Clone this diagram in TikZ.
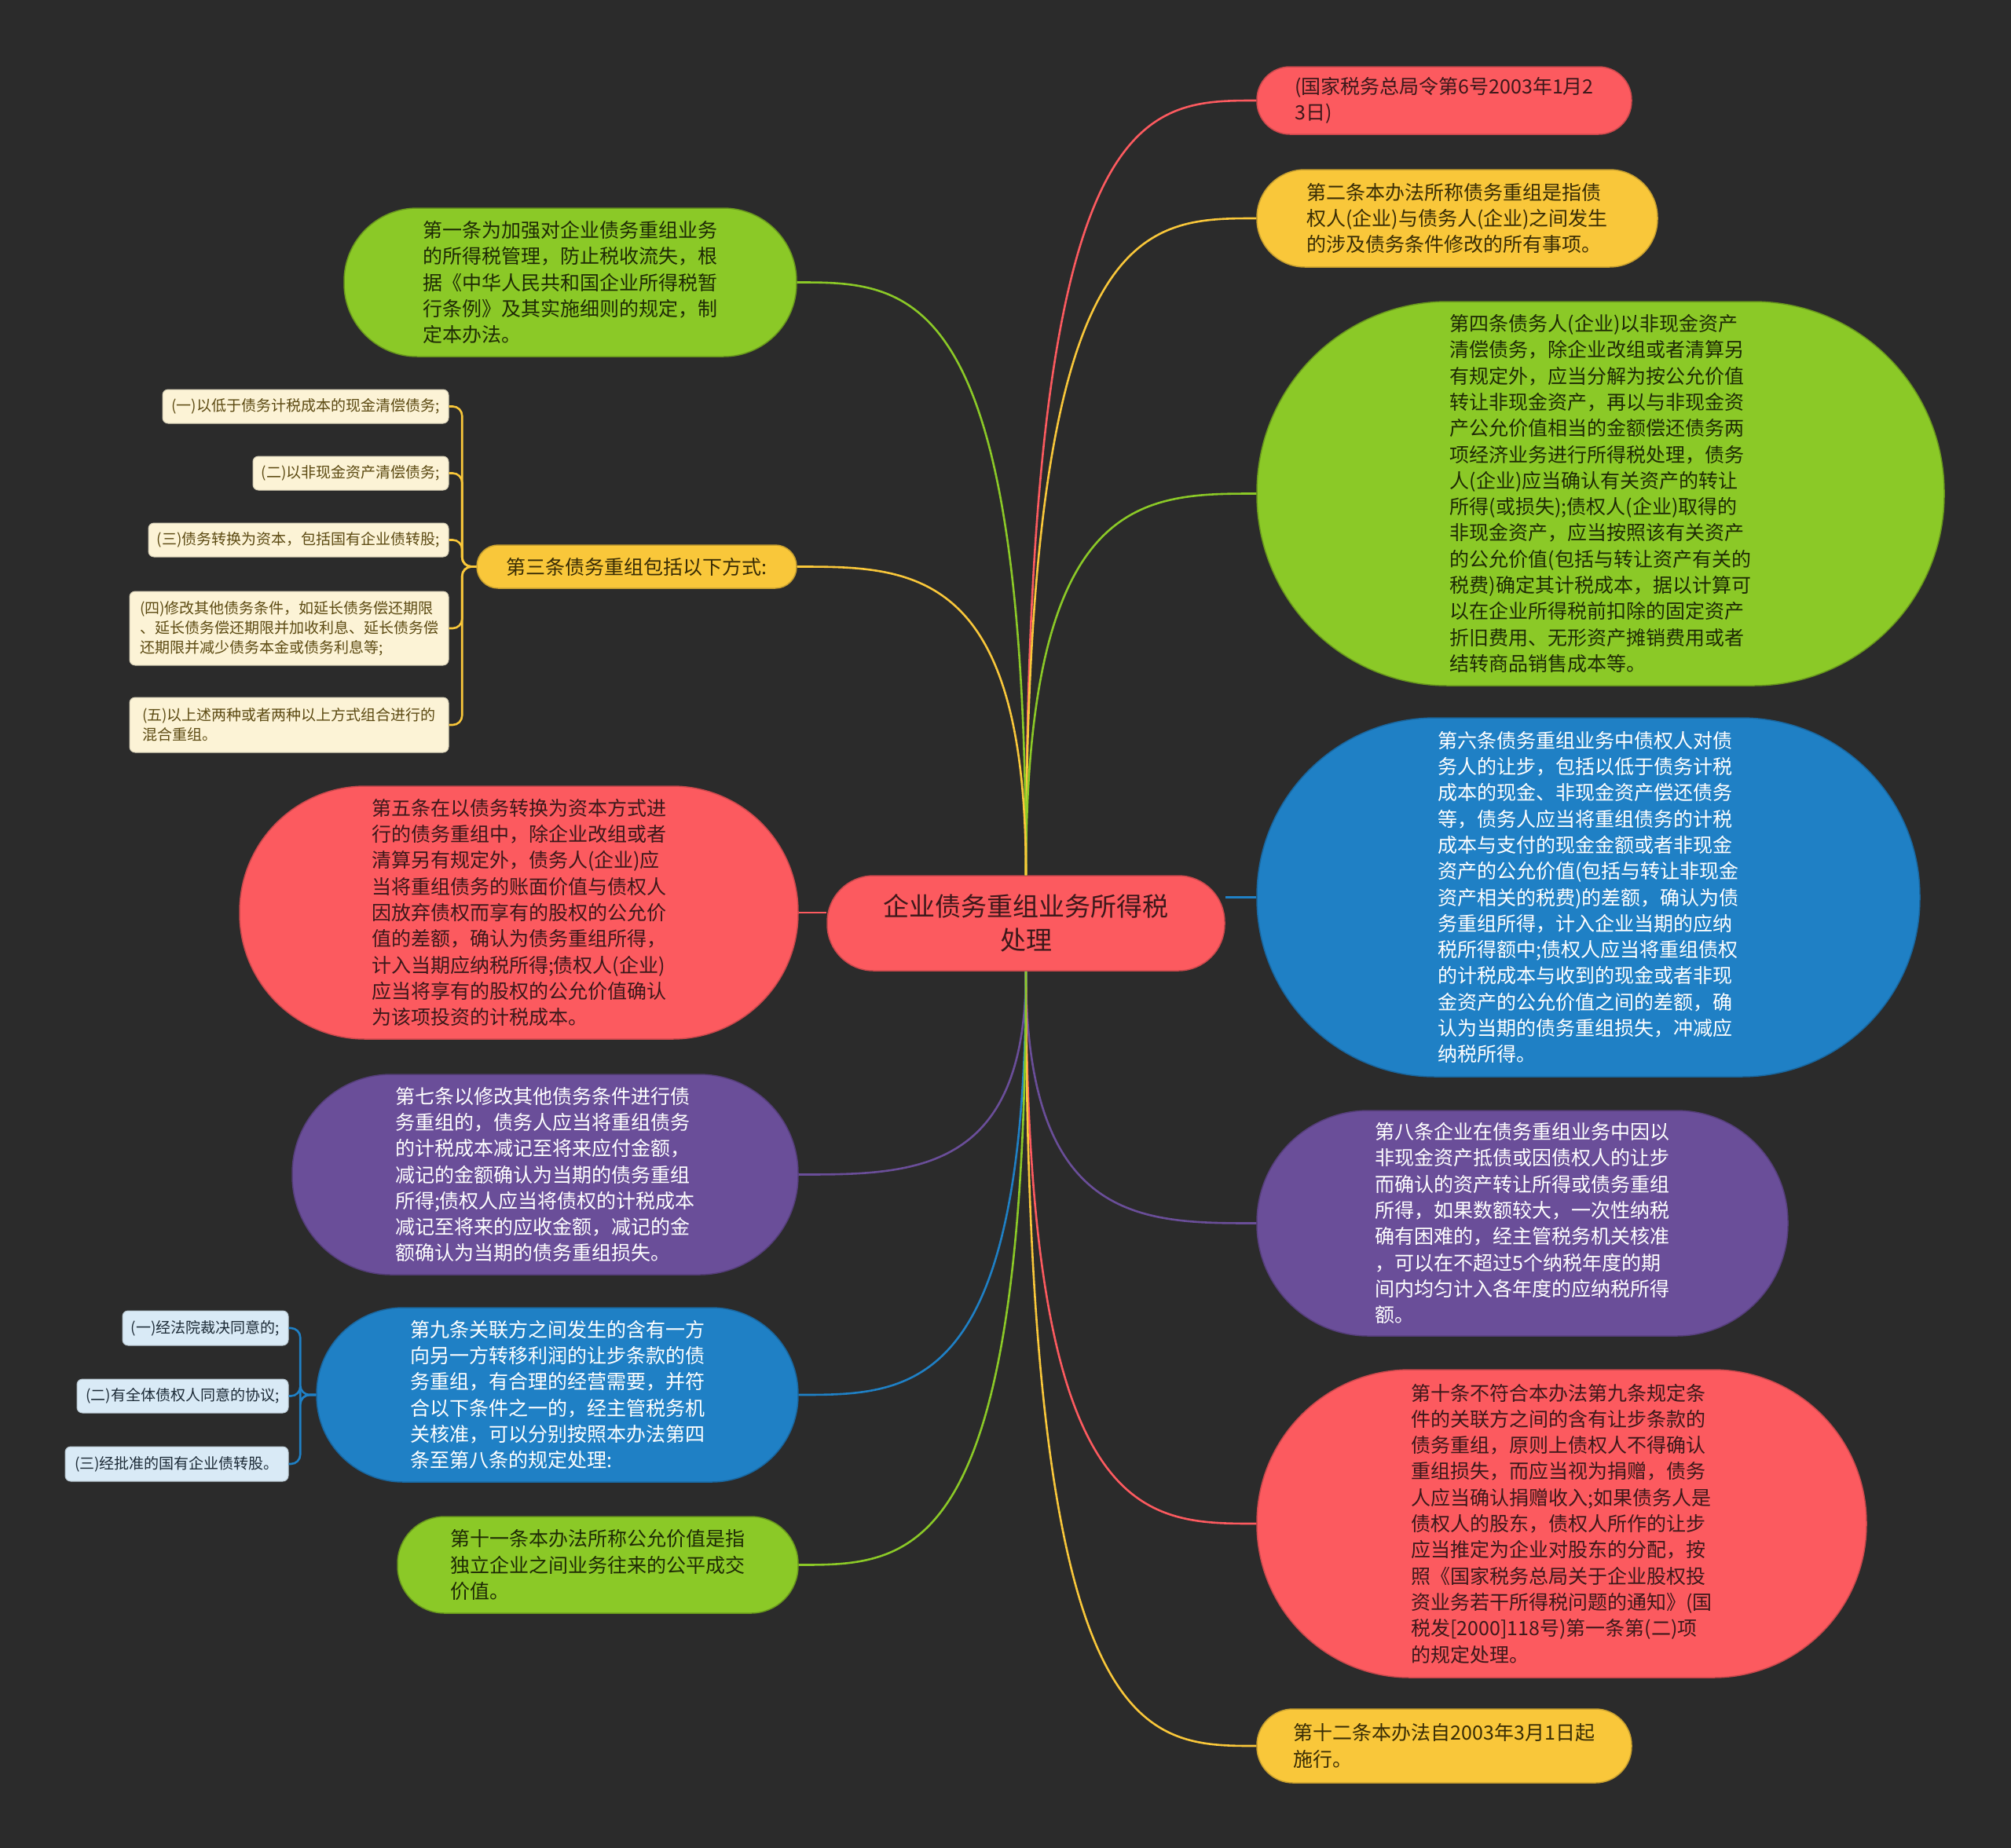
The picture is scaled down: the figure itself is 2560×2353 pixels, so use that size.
\documentclass[tikz,border=0pt]{standalone}
\usepackage{fontspec}
\setmainfont{Noto Sans CJK SC}
\usetikzlibrary{calc}
\definecolor{bg}{HTML}{2B2B2B}
\definecolor{cred}{HTML}{FC5A5F}
\definecolor{cyel}{HTML}{F9C73A}
\definecolor{cgrn}{HTML}{8BC927}
\definecolor{cblu}{HTML}{1F80C5}
\definecolor{cpur}{HTML}{6A4E99}
\definecolor{ccream}{HTML}{FCF3D6}
\definecolor{cltblu}{HTML}{D9EAF6}
\definecolor{tred}{HTML}{3D181A}
\definecolor{tyel}{HTML}{382C05}
\definecolor{tgrn}{HTML}{1E2A05}
\definecolor{tcream}{HTML}{5C4A12}
\definecolor{tltblu}{HTML}{1C2A36}
\tikzset{
  pill/.style={rectangle, inner sep=0pt, align=left, line width=1.5pt,
    font=\fontsize{25}{33.3}\selectfont},
  redpill/.style={pill, fill=cred, draw=cred!80!black, text=tred},
  yelpill/.style={pill, fill=cyel, draw=cyel!80!black, text=tyel},
  grnpill/.style={pill, fill=cgrn, draw=cgrn!75!black, text=tgrn},
  blupill/.style={pill, fill=cblu, draw=cblu!80!black, text=white},
  purpill/.style={pill, fill=cpur, draw=cpur!80!black, text=white},
  leafbox/.style={rectangle, inner sep=0pt, align=left, rounded corners=7pt,
    font=\fontsize{19}{25}\selectfont, line width=1pt},
  creambox/.style={leafbox, fill=ccream, draw=ccream!85!black, text=tcream},
  ltblubox/.style={leafbox, fill=cltblu, draw=cltblu!85!black, text=tltblu},
  conn/.style={line width=2.6pt},
  brk/.style={line width=2.6pt, rounded corners=12pt}
}
\begin{document}
\begin{tikzpicture}[x=1pt,y=-1pt]
\fill[bg] (0,0) rectangle (2560,2353);
\useasboundingbox (0,0) rectangle (2560,2353);

% centre
\node[redpill, minimum width=506pt, minimum height=121pt, rounded corners=59pt,
  align=center, font=\fontsize{33}{43}\selectfont] (ctr) at (1306,1175.5)
  {企业债务重组业务所得税\\处理};

% right side
\node[redpill, minimum width=477pt, minimum height=86pt, rounded corners=42pt] (r1) at (1838.5,128)
  {(国家税务总局令第6号2003年1月2\\3日)};
\node[yelpill, minimum width=510pt, minimum height=124pt, rounded corners=61pt] (r2) at (1855,278)
  {第二条本办法所称债务重组是指债\\权人(企业)与债务人(企业)之间发生\\的涉及债务条件修改的所有事项。};
\node[grnpill, minimum width=875pt, minimum height=489pt, rounded corners=243pt] (r3) at (2037.5,628.5)
  {第四条债务人(企业)以非现金资产\\清偿债务，除企业改组或者清算另\\有规定外，应当分解为按公允价值\\转让非现金资产，再以与非现金资\\产公允价值相当的金额偿还债务两\\项经济业务进行所得税处理，债务\\人(企业)应当确认有关资产的转让\\所得(或损失);债权人(企业)取得的\\非现金资产，应当按照该有关资产\\的公允价值(包括与转让资产有关的\\税费)确定其计税成本，据以计算可\\以在企业所得税前扣除的固定资产\\折旧费用、无形资产摊销费用或者\\结转商品销售成本等。};
\node[blupill, minimum width=844pt, minimum height=457pt, rounded corners=227pt] (r4) at (2022,1142.5)
  {第六条债务重组业务中债权人对债\\务人的让步，包括以低于债务计税\\成本的现金、非现金资产偿还债务\\等，债务人应当将重组债务的计税\\成本与支付的现金金额或者非现金\\资产的公允价值(包括与转让非现金\\资产相关的税费)的差额，确认为债\\务重组所得，计入企业当期的应纳\\税所得额中;债权人应当将重组债权\\的计税成本与收到的现金或者非现\\金资产的公允价值之间的差额，确\\认为当期的债务重组损失，冲减应\\纳税所得。};
\node[purpill, minimum width=676pt, minimum height=287pt, rounded corners=142pt] (r5) at (1938,1557.5)
  {第八条企业在债务重组业务中因以\\非现金资产抵债或因债权人的让步\\而确认的资产转让所得或债务重组\\所得，如果数额较大，一次性纳税\\确有困难的，经主管税务机关核准\\，可以在不超过5个纳税年度的期\\间内均匀计入各年度的应纳税所得\\额。};
\node[redpill, minimum width=776pt, minimum height=392pt, rounded corners=195pt] (r6) at (1988,1940)
  {第十条不符合本办法第九条规定条\\件的关联方之间的含有让步条款的\\债务重组，原则上债权人不得确认\\重组损失，而应当视为捐赠，债务\\人应当确认捐赠收入;如果债务人是\\债权人的股东，债权人所作的让步\\应当推定为企业对股东的分配，按\\照《国家税务总局关于企业股权投\\资业务若干所得税问题的通知》(国\\税发[2000]118号)第一条第(二)项\\的规定处理。};
\node[yelpill, minimum width=477pt, minimum height=94pt, rounded corners=46pt] (r7) at (1838.5,2223)
  {第十二条本办法自2003年3月1日起\\施行。};

% left side
\node[grnpill, minimum width=576pt, minimum height=189pt, rounded corners=93pt] (l1) at (726,359.5)
  {第一条为加强对企业债务重组业务\\的所得税管理，防止税收流失，根\\据《中华人民共和国企业所得税暂\\行条例》及其实施细则的规定，制\\定本办法。};
\node[yelpill, minimum width=407pt, minimum height=55pt, rounded corners=27pt] (l2) at (810.5,721.5)
  {第三条债务重组包括以下方式:};
\node[redpill, minimum width=711pt, minimum height=322pt, rounded corners=160pt] (l3) at (660.5,1162)
  {第五条在以债务转换为资本方式进\\行的债务重组中，除企业改组或者\\清算另有规定外，债务人(企业)应\\当将重组债务的账面价值与债权人\\因放弃债权而享有的股权的公允价\\值的差额，确认为债务重组所得，\\计入当期应纳税所得;债权人(企业)\\应当将享有的股权的公允价值确认\\为该项投资的计税成本。};
\node[purpill, minimum width=644pt, minimum height=255pt, rounded corners=126pt] (l4) at (694,1495.5)
  {第七条以修改其他债务条件进行债\\务重组的，债务人应当将重组债务\\的计税成本减记至将来应付金额，\\减记的金额确认为当期的债务重组\\所得;债权人应当将债权的计税成本\\减记至将来的应收金额，减记的金\\额确认为当期的债务重组损失。};
\node[blupill, minimum width=613pt, minimum height=222pt, rounded corners=110pt] (l5) at (709.5,1776)
  {第九条关联方之间发生的含有一方\\向另一方转移利润的让步条款的债\\务重组，有合理的经营需要，并符\\合以下条件之一的，经主管税务机\\关核准，可以分别按照本办法第四\\条至第八条的规定处理:};
\node[grnpill, minimum width=510pt, minimum height=123pt, rounded corners=60pt] (l6) at (761,1992.5)
  {第十一条本办法所称公允价值是指\\独立企业之间业务往来的公平成交\\价值。};

% leaves of 第三条
\node[creambox, minimum width=364pt, minimum height=43pt] (c1) at (389,517.5)
  {(一)以低于债务计税成本的现金清偿债务;};
\node[creambox, minimum width=249pt, minimum height=43pt] (c2) at (446.5,602.5)
  {(二)以非现金资产清偿债务;};
\node[creambox, minimum width=382pt, minimum height=43pt] (c3) at (380,687.5)
  {(三)债务转换为资本，包括国有企业债转股;};
\node[creambox, minimum width=406pt, minimum height=94pt] (c4) at (368,800)
  {(四)修改其他债务条件，如延长债务偿还期限\\、延长债务偿还期限并加收利息、延长债务偿\\还期限并减少债务本金或债务利息等;};
\node[creambox, minimum width=406pt, minimum height=70pt] (c5) at (368,923)
  {(五)以上述两种或者两种以上方式组合进行的\\混合重组。};

% leaves of 第九条
\node[ltblubox, minimum width=211pt, minimum height=44pt] (d1) at (261.5,1691)
  {(一)经法院裁决同意的;};
\node[ltblubox, minimum width=269pt, minimum height=43pt] (d2) at (232.5,1777.5)
  {(二)有全体债权人同意的协议;};
\node[ltblubox, minimum width=284pt, minimum height=44pt] (d3) at (225,1864)
  {(三)经批准的国有企业债转股。};

% connectors from the top of the centre
\foreach \t/\c in {r1/cred, r2/cyel, r3/cgrn}{
  \draw[conn, \c] (ctr.north) .. controls (ctr.north |- \t.west) and ($(ctr.north |- \t.west)!0.5!(\t.west)$) .. (\t.west);
}
\foreach \t/\c in {l1/cgrn, l2/cyel}{
  \draw[conn, \c] (ctr.north) .. controls (ctr.north |- \t.east) and ($(ctr.north |- \t.east)!0.5!(\t.east)$) .. (\t.east);
}
% connectors from the bottom of the centre
\foreach \t/\c in {r5/cpur, r6/cred, r7/cyel}{
  \draw[conn, \c] (ctr.south) .. controls (ctr.south |- \t.west) and ($(ctr.south |- \t.west)!0.5!(\t.west)$) .. (\t.west);
}
\foreach \t/\c in {l4/cpur, l5/cblu, l6/cgrn}{
  \draw[conn, \c] (ctr.south) .. controls (ctr.south |- \t.east) and ($(ctr.south |- \t.east)!0.5!(\t.east)$) .. (\t.east);
}
% side connectors
\draw[conn, cred] (l3.east) -- (l3.east -| ctr.west);
\draw[conn, cblu] (r4.west) -- (r4.west -| ctr.east);

% brackets
\foreach \k in {c1,c2,c3,c4,c5}{
  \draw[brk, cyel] (\k.east) -| ($(l2.west)+(-18,0)$) -- (l2.west);
}
\foreach \k in {d1,d2,d3}{
  \draw[brk, cblu] (\k.east) -| ($(l5.west)+(-20,0)$) -- (l5.west);
}
\end{tikzpicture}
\end{document}
